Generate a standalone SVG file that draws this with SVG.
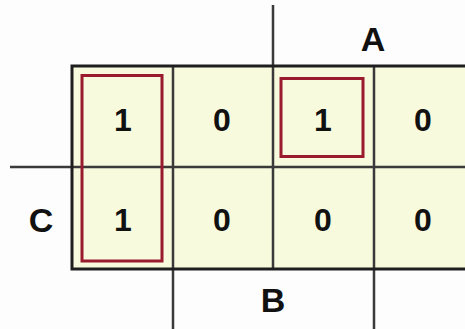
<svg xmlns="http://www.w3.org/2000/svg" width="465" height="329" viewBox="0 0 465 329">
<style>
.cell{fill:#F8FADD;stroke:none}
.grid{stroke:#3a3a3a;stroke-width:2.5;fill:none}
.border{stroke:#1e1e1e;stroke-width:3;fill:none}
.loop{stroke:#9A1B2E;stroke-width:3;fill:none}
.t{font-family:"Liberation Sans",Arial,sans-serif;font-weight:bold;font-size:32px;fill:#111;text-anchor:middle}
.l{font-size:34px}
</style>
<rect x="0" y="0" width="465" height="329" fill="#FDFDFD"/>
<g id="map">
<rect class="cell" x="72" y="66" width="400" height="203"/>
</g>
<g id="connectors">
<line class="grid" x1="173" y1="66" x2="173" y2="329"/>
<line class="grid" x1="273" y1="5" x2="273" y2="269"/>
<line class="grid" x1="374" y1="66" x2="374" y2="329"/>
<line class="grid" x1="10" y1="167" x2="470" y2="167"/>
<path class="border" d="M470 66 H72 V269 H470"/>
</g>
<g id="cell-r1c1"><text class="t" x="123" y="131">1</text></g>
<g id="cell-r1c2"><text class="t" x="222" y="131">0</text></g>
<g id="cell-r1c3"><text class="t" x="323" y="131">1</text></g>
<g id="cell-r1c4"><text class="t" x="423" y="131">0</text></g>
<g id="cell-r2c1"><text class="t" x="123" y="231">1</text></g>
<g id="cell-r2c2"><text class="t" x="222" y="231">0</text></g>
<g id="cell-r2c3"><text class="t" x="323" y="231">0</text></g>
<g id="cell-r2c4"><text class="t" x="423" y="231">0</text></g>
<g id="label-A"><text class="t l" x="373" y="51">A</text></g>
<g id="label-B"><text class="t l" x="273" y="312">B</text></g>
<g id="label-C"><text class="t l" x="41" y="232">C</text></g>
<g id="loop-1"><rect class="loop" x="82" y="75.5" width="80" height="185.5"/></g>
<g id="loop-2"><rect class="loop" x="281" y="78.5" width="82" height="78"/></g>
</svg>
